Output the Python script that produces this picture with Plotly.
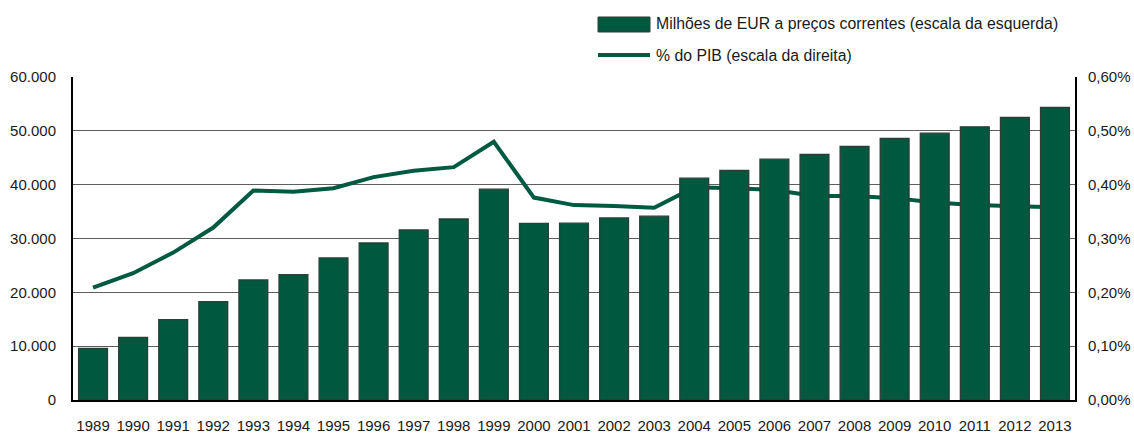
import plotly.graph_objects as go

years = [str(y) for y in range(1989, 2014)]
milhoes_eur = [9600, 11650, 14930, 18270, 22300, 23290, 26390, 29180, 31600, 33640,
               39160, 32800, 32840, 33830, 34140, 41200, 42630, 44730, 45600, 47090,
               48580, 49560, 50740, 52480, 54330]
pct_pib = [0.2087, 0.2355, 0.2738, 0.3203, 0.3890, 0.3870, 0.3935, 0.4140, 0.4260, 0.4325,
           0.4796, 0.3760, 0.3620, 0.3606, 0.3570, 0.3950, 0.3935, 0.3900, 0.3790, 0.3790,
           0.3750, 0.3670, 0.3620, 0.3606, 0.3580]
left_ticks = [0, 10000, 20000, 30000, 40000, 50000, 60000]
right_ticks = [0, 0.001, 0.002, 0.003, 0.004, 0.005, 0.006]
legend_labels = ["Milhões de EUR a preços correntes (escala da esquerda)",
                 "% do PIB (escala da direita)"]

W, H = 1134, 435
ML, MR, MT, MB = 73, 59, 77, 35
PW, PH = W - ML - MR, H - MT - MB

def px(x):
    return (x - ML) / PW

def py(y):
    return 1 - (y - MT) / PH

GREEN = "#00583f"
LINEGREEN = "#005a42"
OUTLINE = "#2c3e36"
FONT = "Liberation Sans, Arial, sans-serif"
TXT = "#1a1a1a"

fig = go.Figure()
# line on the base axis (drawn below), bars on overlaying axis (drawn above)
fig.add_trace(go.Scatter(
    x=years, y=[v / 100 for v in pct_pib], mode="lines",
    line=dict(color=LINEGREEN, width=4), yaxis="y", name=legend_labels[1],
    showlegend=False, hoverinfo="skip"))
fig.add_trace(go.Bar(
    x=years, y=milhoes_eur, yaxis="y2", name=legend_labels[0],
    marker=dict(color=GREEN, line=dict(color=OUTLINE, width=1.3)),
    showlegend=False, hoverinfo="skip"))

fig.update_layout(
    width=W, height=H, margin=dict(l=ML, r=MR, t=MT, b=MB, autoexpand=False),
    paper_bgcolor="white", plot_bgcolor="white",
    separators=",.",
    font=dict(family=FONT, size=15, color=TXT),
    bargap=0.28,
    xaxis=dict(type="category", range=[-0.5, 24.5], showgrid=False,
               showline=True, linecolor="black", linewidth=2, ticks="",
               tickangle=0, automargin=False,
               ticklabelstandoff=11, tickfont=dict(size=15)),
    yaxis=dict(side="right", range=[0, 0.006], tickvals=right_ticks,
               tickformat=".2%", showgrid=True, gridcolor="#5e5e5e", gridwidth=1,
               showline=True, linecolor="black", linewidth=2, ticks="",
               automargin=False, ticklabelstandoff=8, zeroline=False),
    yaxis2=dict(side="left", overlaying="y", range=[0, 60000], tickvals=left_ticks,
                tickformat=",d", showgrid=False, showline=True, linecolor="black",
                linewidth=2, ticks="", automargin=False,
                ticklabelstandoff=12, zeroline=False),
)

# manual legend
fig.add_shape(type="rect", xref="paper", yref="paper",
              x0=px(598), x1=px(650), y0=py(32), y1=py(17),
              fillcolor=GREEN, line=dict(color=OUTLINE, width=1))
fig.add_shape(type="line", xref="paper", yref="paper",
              x0=px(598), x1=px(650), y0=py(55), y1=py(55),
              line=dict(color=LINEGREEN, width=4))
for lab, yc in zip(legend_labels, [24, 55]):
    fig.add_annotation(text=lab, xref="paper", yref="paper", x=px(654), y=py(yc),
                       xanchor="left", yanchor="middle", showarrow=False,
                       font=dict(size=15.8, family=FONT, color=TXT))

fig.write_html("out.html", config={"displayModeBar": False},
               post_script="document.body.style.margin='0';document.body.style.overflow='hidden';")
